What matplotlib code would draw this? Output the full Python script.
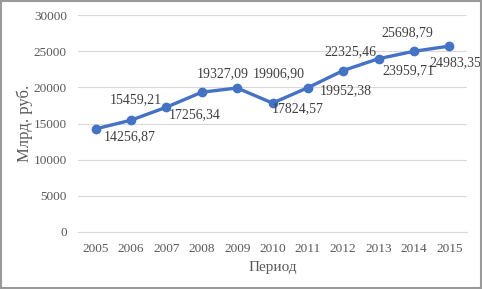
import matplotlib.pyplot as plt
from matplotlib.patches import Rectangle

years = ['2005', '2006', '2007', '2008', '2009', '2010',
         '2011', '2012', '2013', '2014', '2015']
values = [14256.87, 15459.21, 17256.34, 19327.09, 19906.90, 17824.57,
          19952.38, 22325.46, 23959.71, 24983.35, 25698.79]
labels = ['14256,87', '15459,21', '17256,34', '19327,09', '19906,90', '17824,57',
          '19952,38', '22325,46', '23959,71', '24983,35', '25698,79']

# label placement relative to each point, in pixels (x right, y up)
label_offsets = [(34, -8), (5, 20), (28, -8), (21, 19), (42, 14), (25, -6),
                 (38, -3), (7, 19), (30, -12), (41, -11), (-42, 13)]

plt.rcParams['font.family'] = ['Liberation Serif', 'DejaVu Serif']

fig = plt.figure(figsize=(4.82, 2.89), dpi=100)
ax = fig.add_axes([78 / 482, 1 - 232 / 289, 389 / 482, 217 / 289])

x = list(range(len(years)))
ax.plot(x, values, color='#4472C4', linewidth=2.4, marker='o',
        markersize=6, zorder=3)

for xi, v, lab, off in zip(x, values, labels, label_offsets):
    ax.annotate(lab, (xi, v), xytext=off, textcoords='offset pixels',
                ha='center', va='center', fontsize=10, color='#404040')

ax.set_xlim(-0.5, len(years) - 0.5)
ax.set_ylim(0, 30000)
ax.set_yticks(range(0, 30001, 5000))
ax.set_xticks(x)
ax.set_xticklabels(years)
ax.grid(axis='y', color='#D9D9D9', linewidth=0.8)
ax.set_axisbelow(True)
for s in ax.spines.values():
    s.set_visible(False)
ax.spines['bottom'].set_visible(True)
ax.spines['bottom'].set_color('#D9D9D9')
ax.spines['bottom'].set_linewidth(0.8)
ax.tick_params(length=0, labelsize=9.5, colors='#595959', pad=8)
ax.set_xlabel('Период', fontsize=11, color='#595959', labelpad=4)
ax.set_ylabel('Млрд. руб.', fontsize=12, color='#595959', labelpad=0)
ax.yaxis.set_label_coords(-0.115, 0.5)

fig.patches.append(Rectangle((0.002, 0.003), 0.996, 0.994, transform=fig.transFigure,
                             fill=False, edgecolor='#9A9A9A', linewidth=1.5))

fig.savefig('out.png', dpi=100)
